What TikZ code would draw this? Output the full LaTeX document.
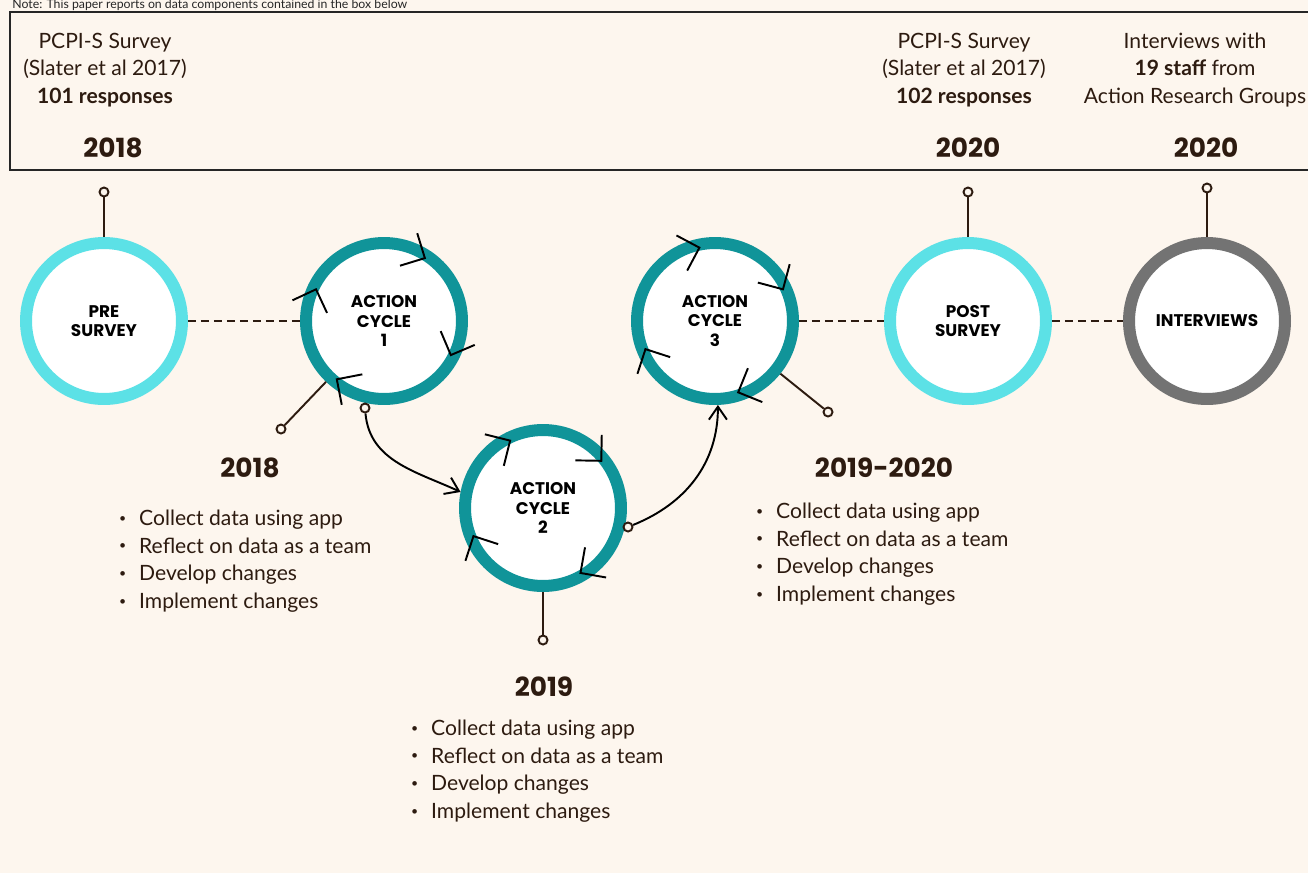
\documentclass[tikz,border=0pt]{standalone}
\usepackage{fontspec}
\setmainfont{Lato}
\newfontfamily\headfont{Poppins}
\usetikzlibrary{arrows.meta}
\definecolor{tlbg}{RGB}{253,246,238}
\definecolor{tlbrown}{RGB}{45,27,16}
\definecolor{tlcyan}{RGB}{92,225,230}
\definecolor{tlteal}{RGB}{16,148,153}
\definecolor{tlgray}{RGB}{115,115,115}
\newcommand\bul{\makebox[0.40cm][l]{\fontsize{7}{7}\selectfont\raisebox{0.25em}{\textbullet}}}
\newcommand\cyclesteps{\bul Collect data using app\\\bul Reflect on data as a team\\\bul Develop changes\\\bul Implement changes}

\begin{document}
\begin{tikzpicture}
[x=0.02cm,y=0.02cm]
\tikzstyle{ring}=[circle,fill=white,line width=0.24cm,minimum size=3.12cm,inner sep=0,align=center,font=\headfont\bfseries\fontsize{9.6}{11}\selectfont,text=black]
\tikzstyle{hollow node}=[circle,draw=tlbrown,fill=tlbg,line width=1.1pt,inner sep=0,minimum size=0.18cm]
\tikzstyle{stem line}=[draw=tlbrown,line width=1.1pt]
\tikzstyle{dash line}=[draw=tlbrown,line width=1.1pt,dash pattern=on 0.16cm off 0.1cm]
\tikzstyle{flow}=[draw=black,line width=1.1pt,-{Straight Barb[length=0.26cm,width=0.36cm]}]
\tikzstyle{cycle mark}=[draw=black,line width=1.1pt]
\tikzstyle{year}=[font=\headfont\bfseries\fontsize{15}{18}\selectfont,text=tlbrown]
\tikzstyle{info}=[align=center,font=\fontsize{12}{15.6}\selectfont,text=tlbrown]
\tikzstyle{steps}=[anchor=west,align=left,font=\fontsize{12}{15.7}\selectfont,text=tlbrown]

\useasboundingbox (0,0) rectangle (1308,-873);
\fill[tlbg] (0,0) rectangle (1308,-873);
\node[anchor=base west,inner sep=0,font=\fontsize{7}{8}\selectfont,text=black!85]at(12,-8){Note: This paper reports on data components contained in the box below};
\draw[line width=1.6pt,black!85] (1330,-12) -- (10,-12) -- (10,-170) -- (1330,-170);

\node(0)[ring,draw=tlcyan]at(104,-321){PRE\\SURVEY};
\node(1)[ring,draw=tlteal]at(384,-321){ACTION\\CYCLE\\1};
\node(2)[ring,draw=tlteal]at(543,-508){ACTION\\CYCLE\\2};
\node(3)[ring,draw=tlteal]at(715,-321){ACTION\\CYCLE\\3};
\node(4)[ring,draw=tlcyan]at(968,-321){POST\\SURVEY};
\node(5)[ring,draw=tlgray]at(1207,-321){INTERVIEWS};

\node(0s)[hollow node]at(104,-192){};
\node(1s)[hollow node]at(281,-429){};
\node(2s)[hollow node]at(543,-640){};
\node(3s)[hollow node]at(828,-412){};
\node(4s)[hollow node]at(968,-192){};
\node(5s)[hollow node]at(1207,-188){};
\node(1a)[hollow node]at(365,-408){};
\node(2a)[hollow node]at(628,-527){};

\foreach \n in {0,1,2,3,4,5}
  \draw[stem line] (\n) -- (\n s);
\draw[dash line] (0) -- (1);
\draw[dash line] (3) -- (4);
\draw[dash line] (4) -- (5);

\draw[flow] (1a) to[out=-85,in=155] (2.169);
\draw[flow] (2a) to[out=22,in=-90] (3.-88);

\foreach \c/\a in {1/57,1/-27,1/-129,1/155,2/116,2/39,2/-60,2/202,3/102,3/25,3/-72,3/202}
  \draw[cycle mark] (\c) ++(\a:75) ++(\a+140:26) -- ++(\a-40:26) -- ++(\a+50:26);

\node(t0)[info]at(105,-70){PCPI-S Survey\\(Slater et al 2017)\\\textbf{101 responses}};
\node(y0)[year]at(113,-148){2018};
\node(t4)[info]at(964,-70){PCPI-S Survey\\(Slater et al 2017)\\\textbf{102 responses}};
\node(y4)[year]at(968,-148){2020};
\node(t5)[info]at(1195,-70){Interviews with\\\textbf{19 staff} from\\Action Research Groups};
\node(y5)[year]at(1206,-148){2020};

\node(y1)[year]at(250,-468){2018};
\node(l1)[steps]at(113,-561){\cyclesteps};
\node(y2)[year]at(544,-687){2019};
\node(l2)[steps]at(405,-771){\cyclesteps};
\node(y3)[year]at(884,-468){2019-2020};
\node(l3)[steps]at(750,-554){\cyclesteps};
\end{tikzpicture}
\end{document}
